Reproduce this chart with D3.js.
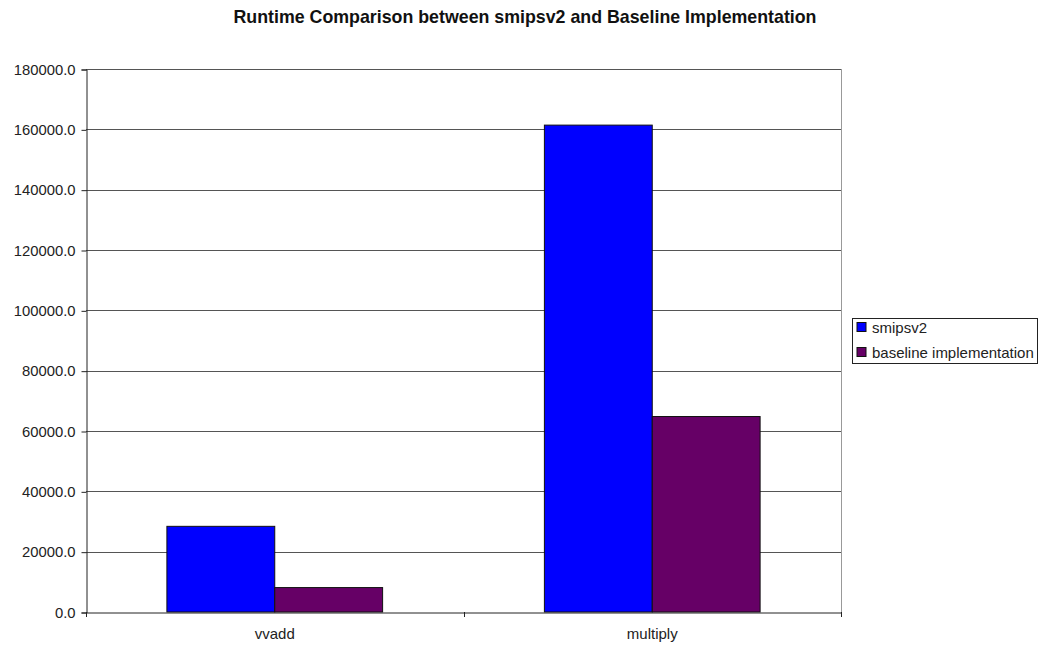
<!DOCTYPE html>
<html>
<head>
<meta charset="utf-8">
<script src="https://cdn.jsdelivr.net/npm/d3@7"></script>
<style>
  html, body { margin: 0; padding: 0; background: #fff; }
  svg { display: block; font-family: "Liberation Sans", Arial, sans-serif; }
</style>
</head>
<body>
<svg id="chart" width="1039" height="648"></svg>
<script>
// Benchmarks and runtimes
const categories = ["vvadd", "multiply"];
const seriesNames = ["smipsv2", "baseline implementation"];
const smipsv2 = [28400, 161400];
const baseline = [8100, 64800];
const yTicks = [0, 20000, 40000, 60000, 80000, 100000, 120000, 140000, 160000, 180000];
const colors = ["#0000ff", "#660066"];

const svg = d3.select("#chart");
const plot = { left: 86, right: 841, top: 69, bottom: 612 };

const x = d3.scaleBand().domain(categories).range([plot.left, plot.right]).paddingInner(0).paddingOuter(0);
const y = d3.scaleLinear().domain([0, 180000]).range([plot.bottom, plot.top]);
const inner = d3.scaleBand().domain(seriesNames).range([0, x.bandwidth()]).paddingInner(0).paddingOuter(0.75);

// Title
svg.append("text")
  .attr("x", 525).attr("y", 23)
  .attr("text-anchor", "middle")
  .attr("font-size", 17.8).attr("font-weight", "bold")
  .attr("fill", "#111")
  .text("Runtime Comparison between smipsv2 and Baseline Implementation");

// Gridlines
svg.append("g").selectAll("line")
  .data(yTicks.filter(d => d > 0))
  .join("line")
  .attr("x1", plot.left).attr("x2", plot.right)
  .attr("y1", d => Math.round(y(d)) + 0.5).attr("y2", d => Math.round(y(d)) + 0.5)
  .attr("stroke", "#555").attr("stroke-width", 1);

// Right border of plot area
svg.append("line")
  .attr("x1", plot.right + 0.5).attr("x2", plot.right + 0.5)
  .attr("y1", plot.top).attr("y2", plot.bottom)
  .attr("stroke", "#999");

// Y axis
const yAxis = d3.axisLeft(y).tickValues(yTicks).tickSize(5).tickPadding(6)
  .tickFormat(d => d3.format(".1f")(d));
const gy = svg.append("g").attr("transform", `translate(${plot.left + 0.5},0.5)`).call(yAxis);
gy.select(".domain").attr("stroke", "#222");
gy.selectAll(".tick line").attr("stroke", "#222");
gy.selectAll(".tick text").attr("font-size", 14.8).attr("fill", "#222")
  .attr("font-family", "Liberation Sans, Arial, sans-serif");

// Bars
const data = categories.map((c, i) => ({ c, vals: [smipsv2[i], baseline[i]] }));
const groups = svg.append("g").selectAll("g")
  .data(data).join("g")
  .attr("transform", d => `translate(${x(d.c)},0)`);
groups.selectAll("rect")
  .data(d => d.vals.map((v, j) => ({ v, s: seriesNames[j], j })))
  .join("rect")
  .attr("x", d => inner(d.s))
  .attr("width", inner.bandwidth())
  .attr("y", d => y(d.v))
  .attr("height", d => y(0) - y(d.v))
  .attr("fill", d => colors[d.j])
  .attr("stroke", "#111").attr("stroke-width", 1);

// X axis
const xAxis = d3.axisBottom(x).tickSize(0).tickPadding(16);
const gx = svg.append("g").attr("transform", `translate(0,${plot.bottom + 0.5})`).call(xAxis);
gx.select(".domain").attr("stroke", "#222");
gx.selectAll(".tick text").attr("font-size", 15).attr("fill", "#222")
  .attr("font-family", "Liberation Sans, Arial, sans-serif");
// Category separators
svg.append("g").selectAll("line")
  .data([...categories.map(c => x(c)), plot.right])
  .join("line")
  .attr("x1", d => Math.round(d) + 0.5).attr("x2", d => Math.round(d) + 0.5)
  .attr("y1", plot.bottom).attr("y2", plot.bottom + 5)
  .attr("stroke", "#222");

// Legend
const legend = svg.append("g").attr("transform", "translate(852.5,318.5)");
legend.append("rect").attr("width", 185).attr("height", 45)
  .attr("fill", "#fff").attr("stroke", "#222");
const items = legend.selectAll("g.item").data(seriesNames).join("g")
  .attr("class", "item")
  .attr("transform", (d, i) => `translate(4.5,${4 + i * 25})`);
items.append("rect").attr("width", 9).attr("height", 9).attr("y", 0)
  .attr("fill", (d, i) => colors[i]).attr("stroke", "#111");
items.append("text").attr("x", 15).attr("y", 10)
  .attr("font-size", 15).attr("fill", "#222").text(d => d);
</script>
</body>
</html>
